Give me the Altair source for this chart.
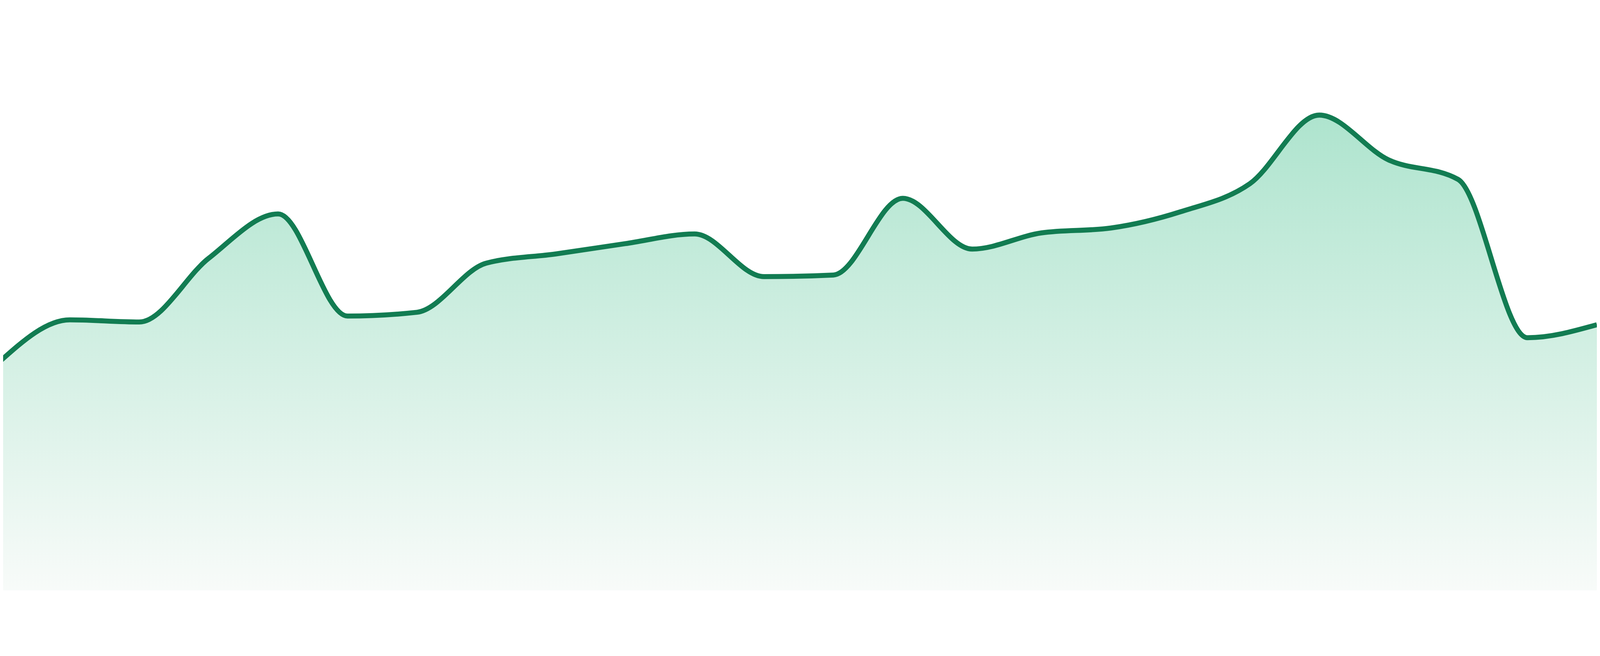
import altair as alt
import pandas as pd

# index of each sample and its value
idx = list(range(24))
values = [42.5, 50.1, 49.7, 61.5, 69.7, 50.8, 51.5, 60.6, 62.3, 64.2, 66.0, 58.1,
          58.4, 72.6, 63.2, 66.2, 67.1, 70.1, 75.3, 88.0, 79.7, 76.1, 46.8, 49.2]

df = pd.DataFrame({"i": idx, "v": values})

LINE = "#127c52"
TOP = "#aee4ce"
BOTTOM = "#f8fbf9"

x_enc = alt.X("i:Q", axis=None, scale=alt.Scale(domain=[0.0383, 23], nice=False, zero=False))
y_enc = alt.Y("v:Q", axis=None, scale=alt.Scale(domain=[0, 100], nice=False))

area = alt.Chart(df).mark_area(
    interpolate="monotone",
    clip=True,
    color=alt.Gradient(
        gradient="linear",
        stops=[alt.GradientStop(color=TOP, offset=0),
               alt.GradientStop(color=BOTTOM, offset=1)],
        x1=1, x2=1, y1=0, y2=1,
    ),
).encode(x=x_enc, y=y_enc)

line = alt.Chart(df).mark_line(
    interpolate="monotone",
    clip=True,
    color=LINE,
    strokeWidth=15,
    strokeJoin="round",
).encode(x=x_enc, y=y_enc)

chart = (area + line).properties(
    width=4792,
    height=1625,
    padding=0,
    autosize=alt.AutoSizeParams(type="none"),
    background="#ffffff",
).configure_view(stroke=None)

chart.save("out.html", embed_options={"renderer": "svg", "actions": False})
